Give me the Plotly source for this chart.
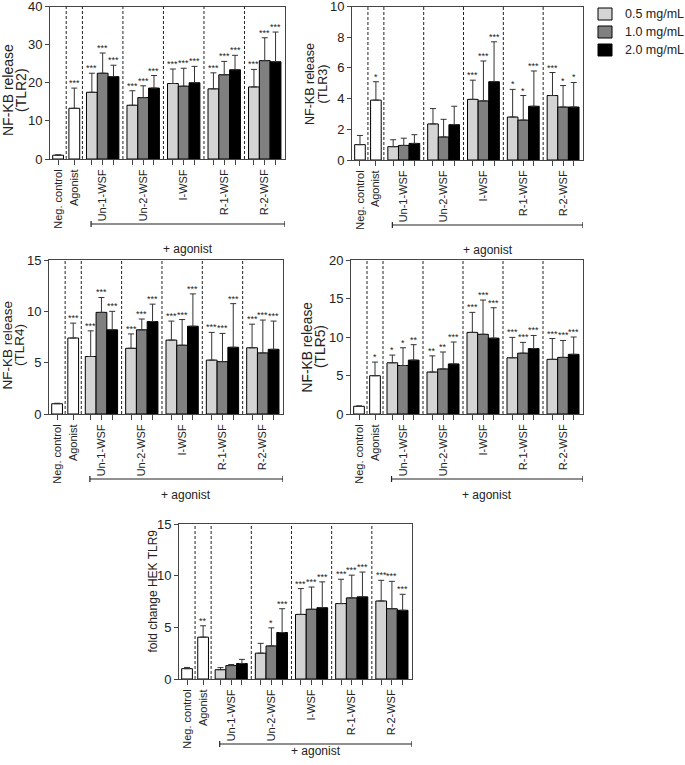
import plotly.graph_objects as go

FONT = "Arial, Liberation Sans, sans-serif"

groups = ["Un-1-WSF", "Un-2-WSF", "I-WSF", "R-1-WSF", "R-2-WSF"]
controls = ["Neg. control", "Agonist"]
conc = ["0.5 mg/mL", "1.0 mg/mL", "2.0 mg/mL"]
conc_colors = ["#d4d4d4", "#808080", "#000000"]

# ---- TLR2 ----
tlr2_ctrl = [1.0, 13.3]
tlr2_ctrl_err = [0.1, 5.3]
tlr2_ctrl_sig = ["", "***"]
tlr2_c05 = [17.5, 14.1, 19.8, 18.4, 18.9]
tlr2_c05_err = [5.0, 3.8, 3.8, 4.2, 4.6]
tlr2_c10 = [22.5, 16.1, 19.1, 22.1, 25.8]
tlr2_c10_err = [5.3, 3.1, 4.7, 3.5, 6.0]
tlr2_c20 = [21.6, 18.6, 20.0, 23.4, 25.5]
tlr2_c20_err = [3.0, 3.3, 4.3, 3.8, 7.8]
tlr2_sig = [["***"] * 5, ["***"] * 5, ["***"] * 5]

# ---- TLR3 ----
tlr3_ctrl = [1.0, 3.9]
tlr3_ctrl_err = [0.6, 1.2]
tlr3_ctrl_sig = ["", "*"]
tlr3_c05 = [0.87, 2.35, 3.95, 2.8, 4.2]
tlr3_c05_err = [0.45, 1.0, 1.25, 1.8, 1.5]
tlr3_c10 = [0.95, 1.5, 3.85, 2.6, 3.45]
tlr3_c10_err = [0.47, 1.15, 2.6, 1.6, 1.4]
tlr3_c20 = [1.08, 2.3, 5.1, 3.5, 3.45]
tlr3_c20_err = [0.57, 1.2, 2.6, 2.3, 1.6]
tlr3_sig = [["", "", "***", "*", "***"],
            ["", "", "***", "*", "*"],
            ["", "", "***", "***", "*"]]

# ---- TLR4 ----
tlr4_ctrl = [1.0, 7.4]
tlr4_ctrl_err = [0.05, 1.45]
tlr4_ctrl_sig = ["", "***"]
tlr4_c05 = [5.6, 6.4, 7.2, 5.25, 6.45]
tlr4_c05_err = [2.5, 1.4, 1.85, 2.7, 2.3]
tlr4_c10 = [9.9, 8.2, 6.7, 5.1, 5.95]
tlr4_c10_err = [1.45, 1.05, 2.5, 2.75, 3.2]
tlr4_c20 = [8.2, 9.0, 8.55, 6.5, 6.3]
tlr4_c20_err = [1.8, 1.7, 3.15, 4.25, 2.75]
tlr4_sig = [["***"] * 5, ["***"] * 5, ["***"] * 5]

# ---- TLR5 ----
tlr5_ctrl = [1.0, 4.97]
tlr5_ctrl_err = [0.05, 1.77]
tlr5_ctrl_sig = ["", "*"]
tlr5_c05 = [6.65, 5.45, 10.6, 7.3, 7.1]
tlr5_c05_err = [1.0, 2.1, 2.6, 2.65, 2.7]
tlr5_c10 = [6.3, 5.85, 10.35, 7.9, 7.35]
tlr5_c10_err = [2.3, 2.2, 4.45, 1.4, 2.2]
tlr5_c20 = [7.0, 6.5, 9.85, 8.5, 7.75]
tlr5_c20_err = [2.0, 2.85, 3.95, 1.7, 2.25]
tlr5_sig = [["*", "**", "***", "***", "***"],
            ["*", "**", "***", "***", "***"],
            ["**", "***", "***", "***", "***"]]

# ---- TLR9 ----
tlr9_ctrl = [1.0, 4.05]
tlr9_ctrl_err = [0.12, 1.1]
tlr9_ctrl_sig = ["", "**"]
tlr9_c05 = [0.9, 2.5, 6.25, 7.3, 7.55]
tlr9_c05_err = [0.2, 0.95, 2.5, 2.35, 2.0]
tlr9_c10 = [1.3, 3.2, 6.75, 7.85, 6.8]
tlr9_c10_err = [0.1, 1.75, 2.15, 2.2, 2.65]
tlr9_c20 = [1.5, 4.5, 6.9, 7.95, 6.65]
tlr9_c20_err = [0.4, 2.3, 2.5, 2.4, 1.55]
tlr9_sig = [["", "", "***", "***", "***"],
            ["", "*", "***", "***", "***"],
            ["", "***", "***", "***", "***"]]

panels = [
    dict(title=["NF-KB release", "(TLR2)"], tsize=14, tx=[8, 21], ty=90, ymax=40, dtick=10,
         ctrl=tlr2_ctrl, ctrl_err=tlr2_ctrl_err, ctrl_sig=tlr2_ctrl_sig,
         means=[tlr2_c05, tlr2_c10, tlr2_c20], errs=[tlr2_c05_err, tlr2_c10_err, tlr2_c20_err], sig=tlr2_sig,
         xd=[50, 285], yd=[6.5, 159]),
    dict(title=["NF-KB release", "(TLR3)"], tsize=12.5, tx=[310, 322.5], ty=84, ymax=10, dtick=2,
         ctrl=tlr3_ctrl, ctrl_err=tlr3_ctrl_err, ctrl_sig=tlr3_ctrl_sig,
         means=[tlr3_c05, tlr3_c10, tlr3_c20], errs=[tlr3_c05_err, tlr3_c10_err, tlr3_c20_err], sig=tlr3_sig,
         xd=[352, 583], yd=[6.5, 160]),
    dict(title=["NF-KB release", "(TLR4)"], tsize=13.5, tx=[7.5, 20], ty=345, ymax=15, dtick=5,
         ctrl=tlr4_ctrl, ctrl_err=tlr4_ctrl_err, ctrl_sig=tlr4_ctrl_sig,
         means=[tlr4_c05, tlr4_c10, tlr4_c20], errs=[tlr4_c05_err, tlr4_c10_err, tlr4_c20_err], sig=tlr4_sig,
         xd=[49, 283], yd=[260, 414]),
    dict(title=["NF-KB release", "(TLR5)"], tsize=13.8, tx=[307.5, 321], ty=347, ymax=20, dtick=5,
         ctrl=tlr5_ctrl, ctrl_err=tlr5_ctrl_err, ctrl_sig=tlr5_ctrl_sig,
         means=[tlr5_c05, tlr5_c10, tlr5_c20], errs=[tlr5_c05_err, tlr5_c10_err, tlr5_c20_err], sig=tlr5_sig,
         xd=[351, 583], yd=[260, 414]),
    dict(title=["fold change HEK TLR9"], tsize=12, tx=[152.5], ty=591, ymax=15, dtick=5,
         ctrl=tlr9_ctrl, ctrl_err=tlr9_ctrl_err, ctrl_sig=tlr9_ctrl_sig,
         means=[tlr9_c05, tlr9_c10, tlr9_c20], errs=[tlr9_c05_err, tlr9_c10_err, tlr9_c20_err], sig=tlr9_sig,
         xd=[179, 412], yd=[524, 679]),
]

W, H = 685, 765
XMAX = 21.75
ctrl_x = [0.75, 2.25]
def group_x(g, i):
    return 3.0 + 3.75 * g + 0.875 + i
divider_x = [1.5, 3.0] + [3.0 + 3.75 * g for g in range(1, 5)]

fig = go.Figure()
layout = dict(width=W, height=H, margin=dict(l=0, r=0, t=0, b=0, autoexpand=False),
              plot_bgcolor="white", paper_bgcolor="white",
              barmode="overlay", font=dict(family=FONT, size=12, color="#222"),
              showlegend=False)
shapes, annotations = [], []
ERR_COLOR = "#333333"

for p_i, p in enumerate(panels):
    n = "" if p_i == 0 else str(p_i + 1)
    xa, ya = "x" + n, "y" + n
    fig.add_trace(go.Bar(x=ctrl_x, y=p["ctrl"], width=1, xaxis=xa, yaxis=ya,
                         marker=dict(color="white", line=dict(color="black", width=1)),
                         error_y=dict(type="data", array=p["ctrl_err"], arrayminus=[0, 0], symmetric=False,
                                      color=ERR_COLOR, thickness=1, width=3),
                         hoverinfo="skip"))
    for i in range(3):
        xs = [group_x(g, i) for g in range(5)]
        fig.add_trace(go.Bar(x=xs, y=p["means"][i], width=1, xaxis=xa, yaxis=ya, name=conc[i],
                             marker=dict(color=conc_colors[i], line=dict(color="black", width=1)),
                             error_y=dict(type="data", array=p["errs"][i], arrayminus=[0] * 5, symmetric=False,
                                          color=ERR_COLOR, thickness=1, width=3),
                             hoverinfo="skip"))
        for g in range(5):
            s = p["sig"][i][g]
            if s:
                annotations.append(dict(x=xs[g], y=p["means"][i][g] + p["errs"][i][g], xref=xa, yref=ya,
                                        text=s, showarrow=False, yanchor="bottom", yshift=-2,
                                        font=dict(size=9, color="#222")))
    for k in range(2):
        s = p["ctrl_sig"][k]
        if s:
            annotations.append(dict(x=ctrl_x[k], y=p["ctrl"][k] + p["ctrl_err"][k], xref=xa, yref=ya,
                                    text=s, showarrow=False, yanchor="bottom", yshift=-2,
                                    font=dict(size=9, color="#222")))
    for dx in divider_x:
        shapes.append(dict(type="line", xref=xa, yref=ya + " domain", x0=dx, x1=dx, y0=0, y1=1,
                           line=dict(color="#222", width=1, dash="3px,2px")))
    tickvals = ctrl_x + [group_x(g, i) for g in range(5) for i in range(3)]
    ticktext = controls + [groups[g] if i == 1 else "" for g in range(5) for i in range(3)]
    xdom = [p["xd"][0] / W, p["xd"][1] / W]
    ydom = [1 - p["yd"][1] / H, 1 - p["yd"][0] / H]
    layout["xaxis" + n] = dict(domain=xdom, range=[0, XMAX], anchor=ya, tickvals=tickvals, ticktext=ticktext,
                               tickangle=-90, ticks="outside", ticklen=5, tickcolor="#444",
                               showline=True, linecolor="#444", linewidth=1, mirror=True, automargin=False,
                               ticklabeloverflow="allow",
                               showgrid=False, zeroline=False, tickfont=dict(size=11, color="#222"))
    layout["yaxis" + n] = dict(domain=ydom, range=[0, p["ymax"]], anchor=xa, dtick=p["dtick"],
                               ticks="outside", ticklen=4, tickcolor="#444", automargin=False,
                               ticklabeloverflow="allow",
                               showline=True, linecolor="#444", linewidth=1, mirror=True,
                               showgrid=False, zeroline=False, tickfont=dict(size=13, color="#222"))
    # y-axis title, one annotation per line
    for line, lx in zip(p["title"], p["tx"]):
        annotations.append(dict(x=lx / W, y=1 - p["ty"] / H, xref="paper", yref="paper",
                                text=line, textangle=-90, showarrow=False,
                                xanchor="center", yanchor="middle",
                                font=dict(size=p["tsize"], color="#222")))
    by = 1 - (p["yd"][1] + 65) / H
    ty = 1 - (p["yd"][1] + 81) / H
    cap = 3 / H
    shapes.append(dict(type="line", xref=xa, yref="paper", x0=3.8, x1=XMAX, y0=by, y1=by,
                       line=dict(color="#222", width=1.2)))
    for cx in (3.8, XMAX):
        shapes.append(dict(type="line", xref=xa, yref="paper", x0=cx, x1=cx, y0=by - cap, y1=by + cap,
                           line=dict(color="#222", width=1.2)))
    annotations.append(dict(x=(3.8 + XMAX) / 2, y=ty, xref=xa, yref="paper", text="+ agonist",
                            showarrow=False, font=dict(size=12, color="#222")))

# legend (drawn as boxes + labels)
for i in range(3):
    cy = 14 + 18 * i
    shapes.append(dict(type="rect", xref="paper", yref="paper",
                       x0=598 / W, x1=612 / W, y0=1 - (cy + 6) / H, y1=1 - (cy - 6) / H,
                       fillcolor=conc_colors[i], line=dict(color="black", width=1)))
    annotations.append(dict(x=623 / W, y=1 - cy / H, xref="paper", yref="paper", text=conc[i],
                            xanchor="left", yanchor="middle", showarrow=False,
                            font=dict(size=12.5, color="#222")))

layout["shapes"] = shapes
layout["annotations"] = annotations
fig.update_layout(**layout)
fig.write_html("out.html", config={"displayModeBar": False, "staticPlot": True},
               post_script="document.body.style.margin='0';document.body.style.overflow='hidden';")
